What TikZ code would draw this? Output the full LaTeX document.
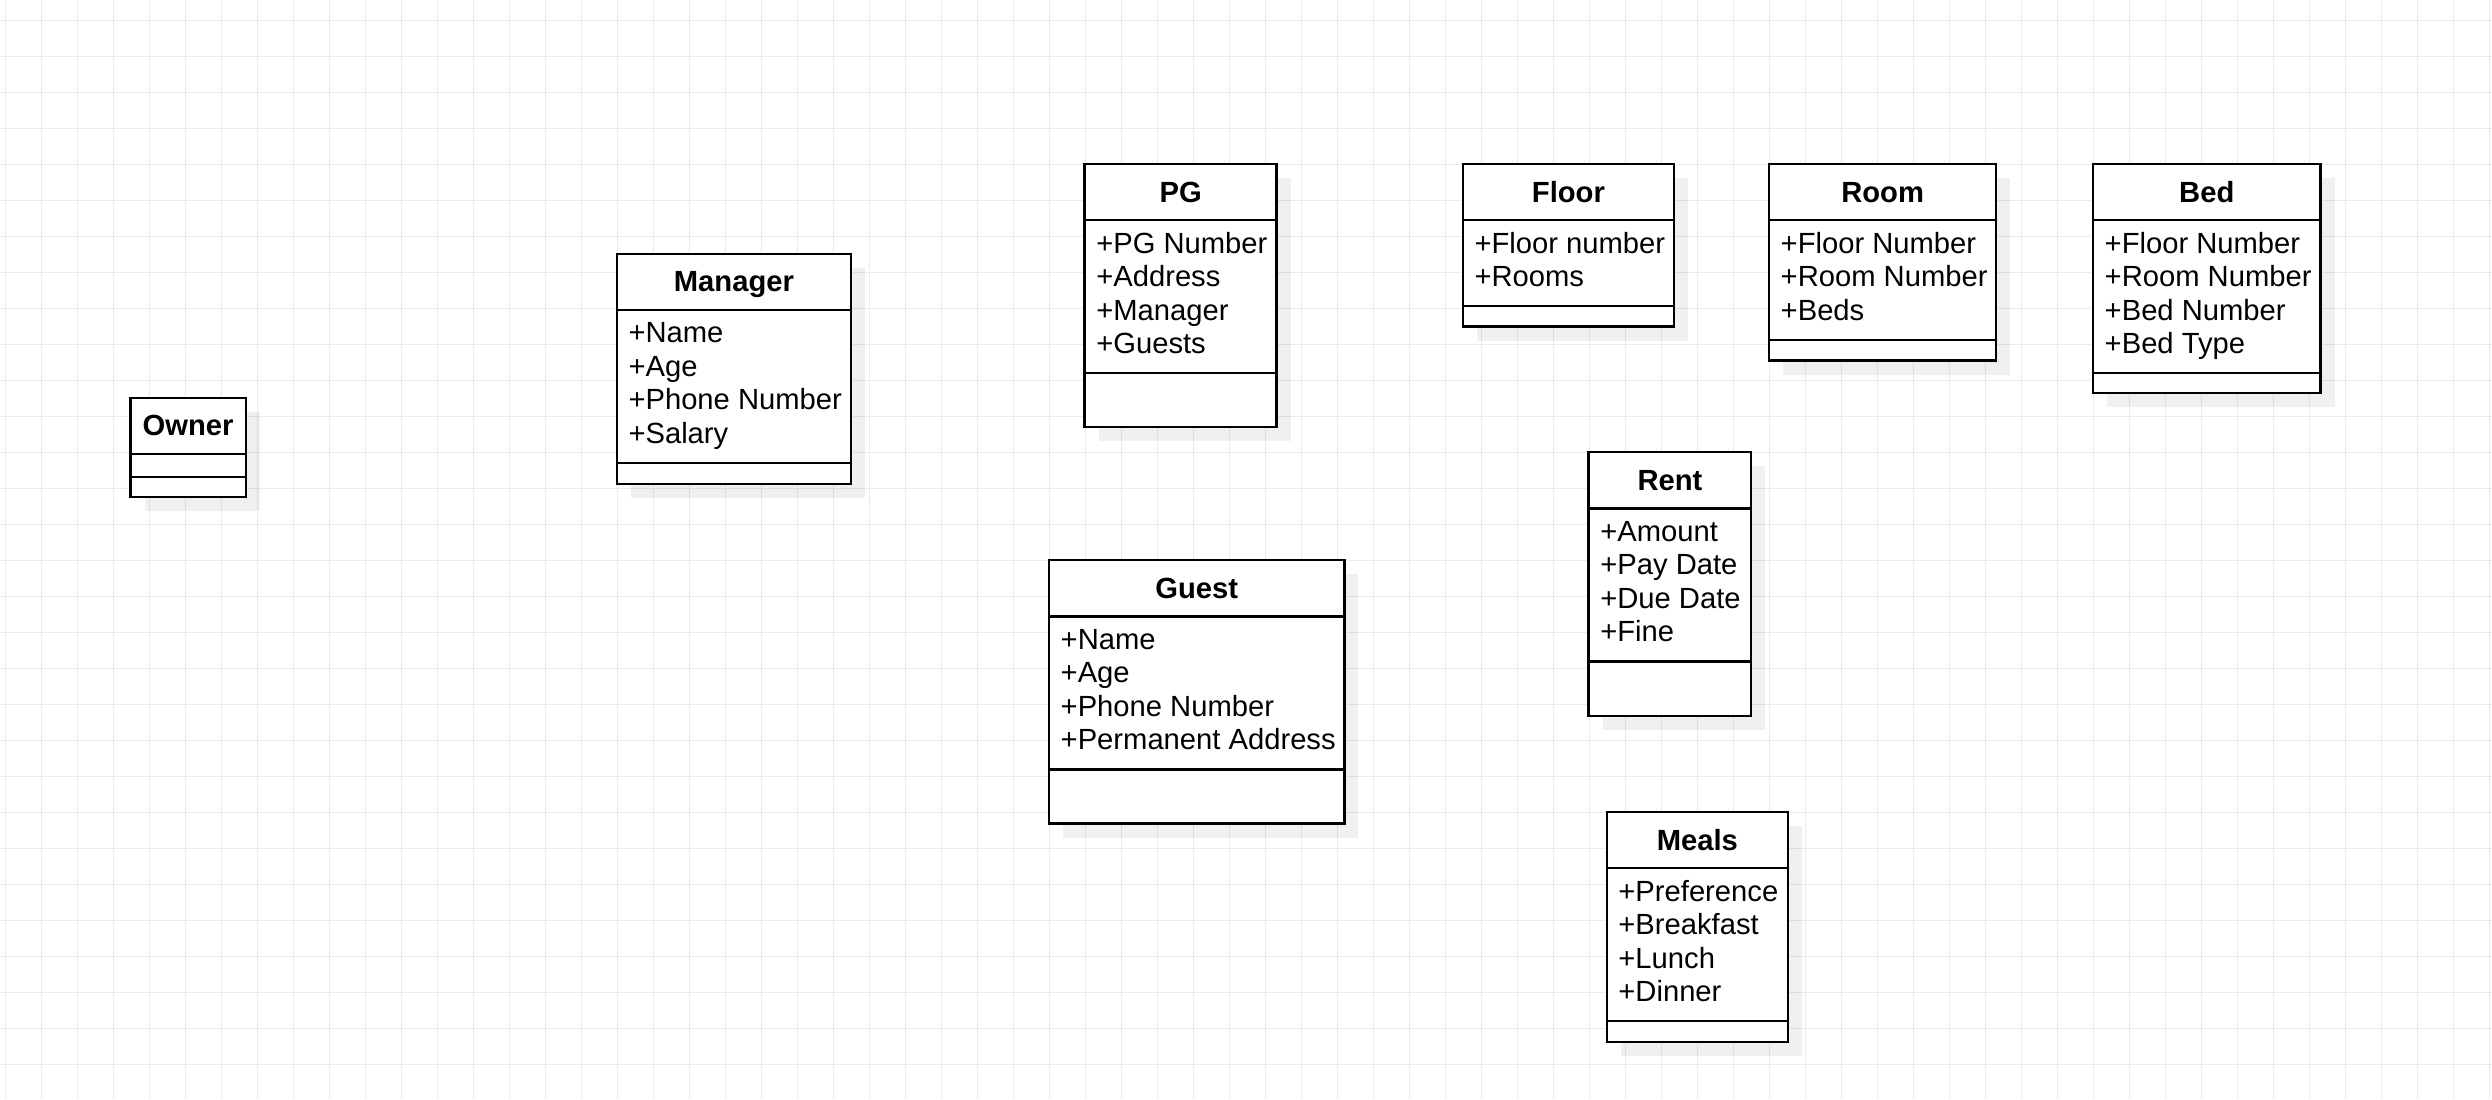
\documentclass[tikz,border=0pt]{standalone}
\usepackage{fontspec}
\setmainfont{Liberation Sans}
\tikzset{
  gridline/.style={draw=black!8, line width=0.28pt},
  boxline/.style={draw=black, line width=0.65pt},
  shadowc/.style={fill=black, fill opacity=0.06},
  clstitle/.style={inner sep=0pt, anchor=base, font=\fontsize{8.3}{9.9}\selectfont\bfseries},
  clsattr/.style={inner sep=0pt, anchor=base west, font=\fontsize{8.3}{9.9}\selectfont},
}
% #1 id, #2 left, #3 top, #4 width, #5 title, #6 number of attribute lines, #7 methods height, #8 attributes
\newcommand{\umlcls}[8]{%
  \pgfmathsetmacro\yA{#3+56.3}%
  \pgfmathsetmacro\yB{\yA+(#6==0 ? 22.7 : #6*33.5+19)}%
  \pgfmathsetmacro\yC{\yB+#7}%
  \fill[shadowc] (#2+14,#3+14) rectangle (#2+#4+14,\yC+14);
  \draw[boxline, fill=white] (#2,#3) rectangle (#2+#4,\yC);
  \draw[boxline] (#2,\yA) -- (#2+#4,\yA);
  \draw[boxline] (#2,\yB) -- (#2+#4,\yB);
  \node[clstitle] (#1) at (#2+#4/2,#3+38) {#5};
  \ifnum#6>0
    \foreach \a [count=\i] in {#8} {
      \node[clsattr] (#1-\i) at (#2+11,\yA+32.8+\i*33.5-33.5) {\a};
    }
  \fi
}
\begin{document}
\begin{tikzpicture}[x=0.01cm, y=-0.01cm]
  \useasboundingbox (0,0) rectangle (2492,1099);
  \fill[white] (0,0) rectangle (2492,1099);
  \foreach \k in {0,...,69} { \draw[gridline] (5.3+36*\k,0) -- (5.3+36*\k,1099); }
  \foreach \k in {0,...,29} { \draw[gridline] (0,20.5+36*\k) -- (2492,20.5+36*\k); }

  \umlcls{owner}{130.5}{397.7}{115.3}{Owner}{0}{20.6}{}
  \umlcls{manager}{616.8}{253.7}{234.2}{Manager}{4}{21.3}{+Name,+Age,+Phone Number,+Salary}
  \umlcls{pg}{1084.6}{164}{192}{PG}{4}{54}{+PG Number,+Address,+Manager,+Guests}
  \umlcls{floor}{1462.8}{164}{211.2}{Floor}{2}{20.3}{+Floor number,+Rooms}
  \umlcls{room}{1769}{164}{227.2}{Room}{3}{20.7}{+Floor Number,+Room Number,+Beds}
  \umlcls{bed}{2093}{164}{227.5}{Bed}{4}{20}{+Floor Number,+Room Number,+Bed Number,+Bed Type}
  \umlcls{rent}{1588.6}{452.3}{162.7}{Rent}{4}{54.6}{+Amount,+Pay Date,+Due Date,+Fine}
  \umlcls{guest}{1049}{560.3}{295.4}{Guest}{4}{54}{+Name,+Age,+Phone Number,+Permanent Address}
  \umlcls{meals}{1606.7}{812}{181.3}{Meals}{4}{21}{+Preference,+Breakfast,+Lunch,+Dinner}
\end{tikzpicture}
\end{document}
